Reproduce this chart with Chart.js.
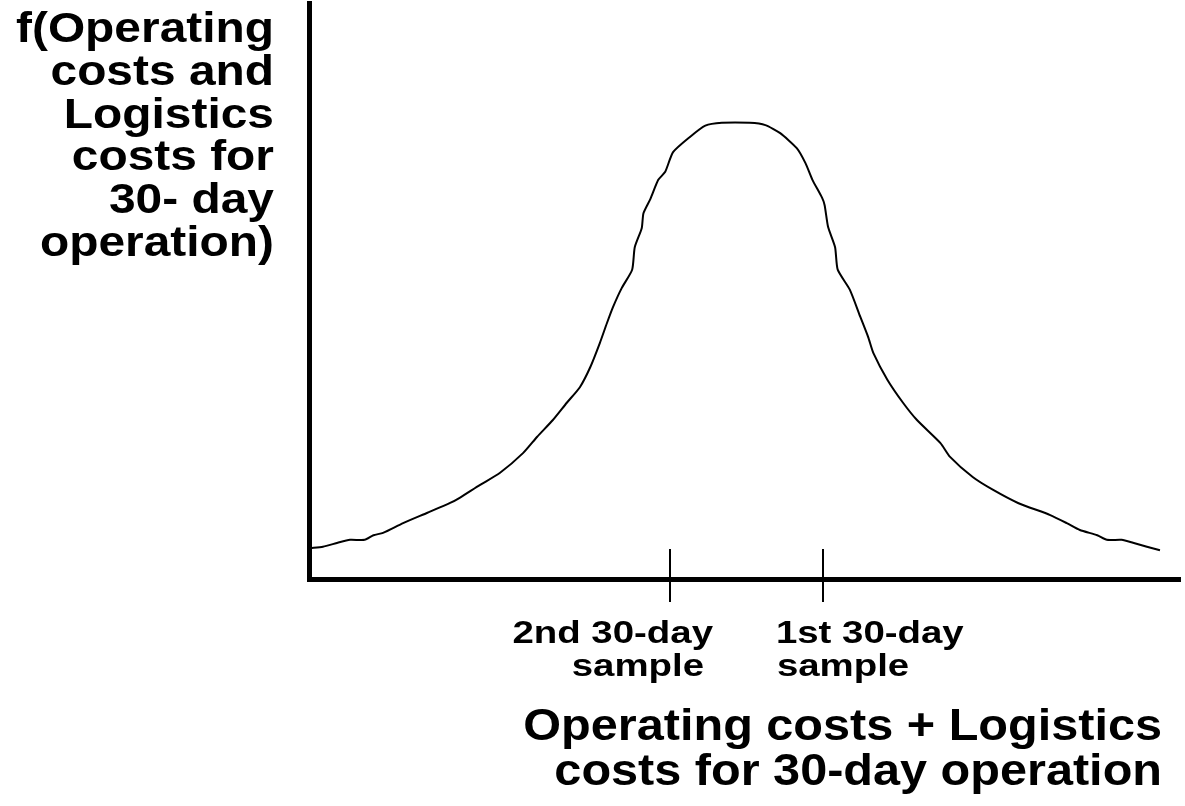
<!DOCTYPE html>
<html>
<head>
<meta charset="utf-8">
<script src="https://cdn.jsdelivr.net/npm/chart.js@4.4.1/dist/chart.umd.min.js"></script>
<style>
  html, body { margin: 0; padding: 0; background: #fff; }
  #wrap { width: 1185px; height: 806px; position: relative; }
</style>
</head>
<body>
<div id="wrap"><canvas id="chart"></canvas></div>
<script>
// ===== DATA (arbitrary 0-100 units) =====
const costX = [
  0.2, 1.6, 3.3, 4.7, 6.4, 7.4, 8.5, 10.8, 13.6, 16.2, 17.3, 19.6, 21.9, 24.6,
  26.2, 28.0, 29.6, 31.1, 32.3, 33.4, 34.2, 34.9, 35.9, 37.1, 37.4, 38.2, 38.4,
  39.2, 40.1, 40.9, 41.8, 43.7, 45.5, 47.4, 50.6, 52.4, 54.1, 56.0, 57.0, 57.8,
  58.9, 59.2, 59.6, 60.4, 60.7, 62.1, 63.3, 64.2, 64.8, 66.4, 68.2, 69.8, 72.5,
  73.6, 76.2, 78.5, 81.4, 85.1, 87.0, 88.5, 90.5, 91.6, 93.3, 94.6, 96.2, 97.7
];
const density = [
  5.4, 5.6, 6.3, 6.8, 6.8, 7.6, 8.0, 9.7, 11.5, 13.2, 14.1, 16.3, 18.4, 21.9,
  24.7, 27.6, 30.6, 33.3, 36.8, 41.0, 44.4, 47.2, 50.5, 53.7, 57.6, 60.9, 63.5,
  66.0, 69.3, 70.7, 74.1, 76.7, 78.7, 79.2, 79.2, 78.8, 77.4, 74.8, 72.2, 69.3,
  66.2, 64.9, 61.1, 57.6, 53.7, 50.2, 45.5, 42.0, 39.2, 34.6, 30.6, 27.6, 23.6,
  21.2, 17.7, 15.5, 13.2, 11.1, 9.7, 8.5, 7.6, 6.8, 6.8, 6.3, 5.6, 5.0
];

// sample markers on the x axis
const sampleX = [41.45, 59.0];
const sampleLabels = [['2nd 30-day', 'sample'], ['1st 30-day', 'sample']];

const yTitle = ['f(Operating', 'costs and', 'Logistics', 'costs for', '30- day', 'operation)'];
const xTitle = ['Operating costs + Logistics', 'costs for 30-day operation'];

// ===== STYLE =====
const FONT = '"Liberation Sans", Arial, sans-serif';

// reference lettering is drawn wider than plain Arial, so stretch it
function stretchedText(ctx, text, x, y, align, size, stretch) {
  ctx.save();
  ctx.font = `bold ${size}px ${FONT}`;
  ctx.fillStyle = '#000';
  ctx.textAlign = align;
  ctx.textBaseline = 'alphabetic';
  ctx.translate(x, y);
  ctx.scale(stretch, 1);
  ctx.fillText(text, 0, 0);
  ctx.restore();
}

const annotations = {
  id: 'annotations',
  afterDraw(chart) {
    const { ctx, scales: { x, y } } = chart;
    const axisY = y.getPixelForValue(0);

    // sample tick marks crossing the x axis
    ctx.save();
    ctx.strokeStyle = '#000';
    ctx.lineWidth = 2;
    sampleX.forEach(v => {
      const px = Math.round(x.getPixelForValue(v));
      ctx.beginPath();
      ctx.moveTo(px, axisY - 30);
      ctx.lineTo(px, axisY + 23);
      ctx.stroke();
    });
    ctx.restore();

    // sample labels
    const p0 = x.getPixelForValue(sampleX[0]);
    stretchedText(ctx, sampleLabels[0][0], p0 + 43, axisY + 64, 'right', 32, 1.2);
    stretchedText(ctx, sampleLabels[0][1], p0 + 34, axisY + 97, 'right', 32, 1.2);
    const p1 = x.getPixelForValue(sampleX[1]);
    stretchedText(ctx, sampleLabels[1][0], p1 - 47, axisY + 64, 'left', 32, 1.2);
    stretchedText(ctx, sampleLabels[1][1], p1 - 46, axisY + 97, 'left', 32, 1.2);

    // y title, right aligned left of the axis
    yTitle.forEach((t, i) => stretchedText(ctx, t, 274, 42 + i * 42.8, 'right', 42, 1.14));

    // x title, right aligned under the axis
    xTitle.forEach((t, i) => stretchedText(ctx, t, 1162, 740 + i * 45, 'right', 45, 1.08));
  },
};

const axisStyle = {
  min: 0,
  max: 100,
  ticks: { display: false },
  grid: { display: false, drawTicks: false },
  border: { display: true, color: '#000', width: 5 },
};

new Chart(document.getElementById('chart'), {
  type: 'scatter',
  data: {
    datasets: [{
      data: costX.map((v, i) => ({ x: v, y: density[i] })),
      showLine: true,
      borderColor: '#000',
      borderWidth: 2,
      pointRadius: 0,
      tension: 0.2,
    }],
  },
  options: {
    responsive: true,
    maintainAspectRatio: false,
    animation: false,
    layout: { padding: { left: 309, right: 5, top: 3, bottom: 227 } },
    plugins: { legend: { display: false }, tooltip: { enabled: false } },
    scales: {
      x: { type: 'linear', ...axisStyle },
      y: { type: 'linear', ...axisStyle },
    },
  },
  plugins: [annotations],
});
</script>
</body>
</html>
